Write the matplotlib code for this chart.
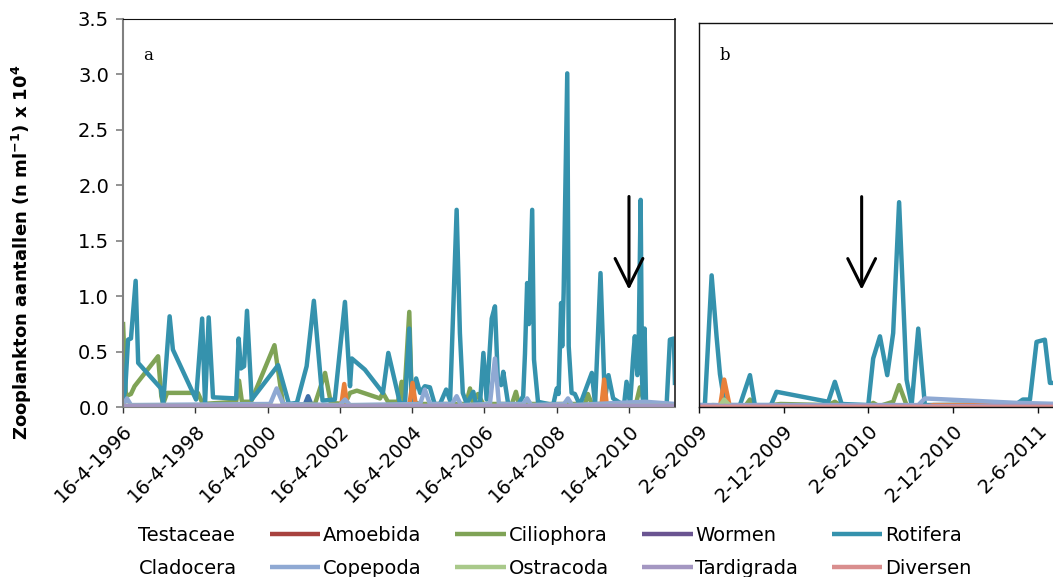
import numpy as np
import matplotlib
matplotlib.use("Agg")
import matplotlib.pyplot as plt
from matplotlib.ticker import FormatStrFormatter
import datetime as dt

# ---------------- data (x = decimal year, y = n ml-1 x 10^4) ----------------
series_names = ["Testaceae", "Amoebida", "Ciliophora", "Wormen", "Rotifera",
                "Cladocera", "Copepoda", "Ostracoda", "Tardigrada", "Diversen"]
series_colors = ["#3F6FA8", "#A8423F", "#7FA356", "#6A5491", "#3592AD",
                 "#E8803A", "#8FA9D3", "#A9C98A", "#A497C2", "#D98E8E"]

# panel a : 1996 - 2011
rot_a_t = [1996.29, 1996.35, 1996.43, 1996.51, 1996.64, 1996.71, 1997.34, 1997.40, 1997.58, 1997.67,
           1998.31, 1998.48, 1998.56, 1998.66, 1998.78, 1999.42, 1999.49, 1999.55, 1999.64, 1999.72,
           1999.85, 2000.58, 2000.88, 2001.10, 2001.37, 2001.57, 2001.81, 2002.15, 2002.43, 2002.57,
           2002.62, 2002.98, 2003.48, 2003.63, 2003.95, 2004.09, 2004.21, 2004.28, 2004.40, 2004.51,
           2004.64, 2004.78, 2004.92, 2005.06, 2005.23, 2005.34, 2005.52, 2005.61, 2005.69, 2005.80,
           2005.98, 2006.06, 2006.17, 2006.26, 2006.35, 2006.49, 2006.58, 2006.66, 2006.75, 2006.81,
           2006.95, 2007.23, 2007.36, 2007.41, 2007.47, 2007.52, 2007.61, 2007.66, 2007.77, 2008.19,
           2008.29, 2008.34, 2008.41, 2008.44, 2008.48, 2008.58, 2008.62, 2008.70, 2008.79, 2008.93,
           2009.26, 2009.35, 2009.50, 2009.62, 2009.72, 2009.85, 2010.04, 2010.15, 2010.22, 2010.32,
           2010.40, 2010.45, 2010.52, 2010.56, 2010.61, 2010.65, 2010.68, 2010.72, 2010.76, 2011.33,
           2011.42, 2011.53, 2011.56]
rot_a_v = [0.07, 0.15, 0.61, 0.62, 1.14, 0.40, 0.17, 0.03, 0.82, 0.52,
           0.07, 0.80, 0.03, 0.81, 0.09, 0.08, 0.62, 0.35, 0.37, 0.87,
           0.07, 0.38, 0.03, 0.04, 0.37, 0.96, 0.06, 0.07, 0.95, 0.19,
           0.44, 0.34, 0.13, 0.49, 0.04, 0.03, 0.71, 0.04, 0.26, 0.13,
           0.19, 0.18, 0.02, 0.03, 0.16, 0.06, 1.78, 0.67, 0.13, 0.03,
           0.14, 0.03, 0.05, 0.49, 0.07, 0.80, 0.91, 0.25, 0.20, 0.32,
           0.02, 0.03, 0.10, 0.48, 1.12, 0.75, 1.78, 0.43, 0.05, 0.02,
           0.17, 0.12, 0.94, 0.55, 1.03, 3.01, 0.55, 0.13, 0.12, 0.02,
           0.31, 0.03, 1.21, 0.06, 0.29, 0.08, 0.04, 0.02, 0.23, 0.03,
           0.44, 0.64, 0.29, 0.67, 1.87, 0.25, 0.02, 0.71, 0.02, 0.03,
           0.61, 0.62, 0.20]

cil_a_t = [1996.29, 1996.37, 1996.51, 1996.61, 1997.26, 1997.35, 1997.40, 1997.51, 1998.36, 1998.50,
           1999.42, 1999.50, 1999.58, 1999.83, 2000.48, 2000.72, 2001.60, 2001.88, 2002.04, 2002.43,
           2002.57, 2002.76, 2003.40, 2003.48, 2003.62, 2003.90, 2004.00, 2004.06, 2004.21, 2004.28,
           2004.51, 2005.78, 2005.89, 2005.97, 2006.11, 2006.25, 2007.05, 2007.16, 2007.24, 2009.07,
           2009.15, 2009.26, 2010.48, 2010.59, 2010.73, 2011.56]
cil_a_v = [0.77, 0.10, 0.12, 0.19, 0.46, 0.10, 0.03, 0.13, 0.13, 0.03,
           0.05, 0.24, 0.05, 0.05, 0.56, 0.02, 0.03, 0.31, 0.04, 0.03,
           0.13, 0.15, 0.08, 0.13, 0.05, 0.05, 0.23, 0.03, 0.86, 0.05,
           0.03, 0.03, 0.17, 0.03, 0.12, 0.03, 0.03, 0.14, 0.03, 0.03,
           0.12, 0.03, 0.03, 0.18, 0.02, 0.02]

clad_a_t = [1996.29, 2002.32, 2002.41, 2002.50, 2004.20, 2004.30, 2004.40, 2009.52, 2009.60, 2009.68, 2011.56]
clad_a_v = [0.00, 0.00, 0.21, 0.00, 0.00, 0.22, 0.00, 0.00, 0.25, 0.00, 0.00]

cop_a_t = [1996.29, 1996.40, 1996.51, 2000.36, 2000.54, 2000.72, 2002.29, 2002.43, 2002.57, 2004.51,
           2004.64, 2004.78, 2005.39, 2005.52, 2005.64, 2006.44, 2006.58, 2006.69, 2007.36, 2007.47,
           2007.58, 2008.49, 2008.60, 2008.71, 2010.73, 2011.56]
cop_a_v = [0.02, 0.08, 0.02, 0.03, 0.17, 0.03, 0.02, 0.07, 0.02, 0.03,
           0.16, 0.03, 0.03, 0.10, 0.02, 0.03, 0.44, 0.03, 0.03, 0.08,
           0.02, 0.03, 0.08, 0.02, 0.05, 0.03]

test_a_t = [1996.29, 2001.30, 2001.41, 2001.52, 2011.56]
test_a_v = [0.01, 0.01, 0.10, 0.01, 0.01]

flat_a_t = [1996.29, 2011.56]
amoe_a_v = [0.00, 0.00]
worm_a_v = [0.005, 0.005]
ostr_a_v = [0.01, 0.01]
tard_a_v = [0.01, 0.01]

# panel b : 2009 - 2011
rot_b_t = [2009.416, 2009.453, 2009.493, 2009.522, 2009.542, 2009.571, 2009.660, 2009.719, 2009.748, 2009.843,
           2009.876, 2010.181, 2010.220, 2010.260, 2010.417, 2010.446, 2010.486, 2010.529, 2010.564, 2010.599,
           2010.643, 2010.673, 2010.712, 2010.751, 2011.292, 2011.329, 2011.371, 2011.410, 2011.459, 2011.489,
           2011.548]
rot_b_v = [0.02, 0.02, 1.19, 0.64, 0.30, 0.02, 0.02, 0.29, 0.02, 0.02,
           0.14, 0.05, 0.23, 0.03, 0.02, 0.44, 0.64, 0.29, 0.67, 1.85,
           0.25, 0.02, 0.71, 0.02, 0.03, 0.07, 0.07, 0.59, 0.61, 0.22,
           0.22]

cil_b_t = [2009.416, 2009.500, 2009.690, 2009.719, 2009.748, 2009.843, 2009.900, 2010.181, 2010.220, 2010.260,
           2010.420, 2010.446, 2010.480, 2010.564, 2010.599, 2010.643, 2010.751, 2011.548]
cil_b_v = [0.01, 0.02, 0.01, 0.07, 0.01, 0.02, 0.03, 0.02, 0.05, 0.01,
           0.01, 0.04, 0.01, 0.05, 0.20, 0.02, 0.01, 0.01]

clad_b_t = [2009.416, 2009.542, 2009.567, 2009.601, 2010.751, 2010.800, 2011.290, 2011.350, 2011.548]
clad_b_v = [0.00, 0.00, 0.25, 0.00, 0.00, 0.02, 0.02, 0.00, 0.00]

ostr_b_t = [2009.416, 2009.542, 2009.567, 2009.601, 2011.548]
ostr_b_v = [0.01, 0.01, 0.07, 0.01, 0.01]

cop_b_t = [2009.416, 2009.542, 2009.567, 2009.601, 2010.712, 2010.751, 2011.292, 2011.548]
cop_b_v = [0.02, 0.02, 0.05, 0.02, 0.02, 0.08, 0.04, 0.03]

flat_b_t = [2009.416, 2011.548]
test_b_v = [0.01, 0.01]
amoe_b_v = [0.00, 0.00]
worm_b_v = [0.005, 0.005]
tard_b_v = [0.01, 0.01]
div_b_v = [0.0, 0.0]

# ticks
ticks_a = ["1996-04-16", "1998-04-16", "2000-04-16", "2002-04-16", "2004-04-16",
           "2006-04-16", "2008-04-16", "2010-04-16"]
ticklabels_a = ["16-4-1996", "16-4-1998", "16-4-2000", "16-4-2002", "16-4-2004",
                "16-4-2006", "16-4-2008", "16-4-2010"]
ticks_b = ["2009-06-02", "2009-12-02", "2010-06-02", "2010-12-02", "2011-06-02"]
ticklabels_b = ["2-6-2009", "2-12-2009", "2-6-2010", "2-12-2010", "2-6-2011"]

arrow_a = ("2010-04-16", 1.90, 1.06)
arrow_b = ("2010-05-19", 1.90, 1.06)


def dec(s):
    d = dt.date.fromisoformat(s)
    start = dt.date(d.year, 1, 1)
    n = (dt.date(d.year + 1, 1, 1) - start).days
    return d.year + (d - start).days / n


plt.rcParams['font.family'] = ['DejaVu Sans']

fig = plt.figure(figsize=(10.53, 5.77), dpi=100)
axA = fig.add_axes([0.1168, 0.2941, 0.5242, 0.6730])
axB = fig.add_axes([0.6635, 0.2941, 0.3431, 0.6666])

lw = 3.2
panel_a = {
    "Testaceae": (test_a_t, test_a_v), "Amoebida": (flat_a_t, amoe_a_v),
    "Ciliophora": (cil_a_t, cil_a_v), "Wormen": (flat_a_t, worm_a_v),
    "Rotifera": (rot_a_t, rot_a_v), "Cladocera": (clad_a_t, clad_a_v),
    "Copepoda": (cop_a_t, cop_a_v), "Ostracoda": (flat_a_t, ostr_a_v),
    "Tardigrada": (flat_a_t, tard_a_v),
}
panel_b = {
    "Testaceae": (flat_b_t, test_b_v), "Amoebida": (flat_b_t, amoe_b_v),
    "Ciliophora": (cil_b_t, cil_b_v), "Wormen": (flat_b_t, worm_b_v),
    "Rotifera": (rot_b_t, rot_b_v), "Cladocera": (clad_b_t, clad_b_v),
    "Copepoda": (cop_b_t, cop_b_v), "Ostracoda": (ostr_b_t, ostr_b_v),
    "Tardigrada": (flat_b_t, tard_b_v), "Diversen": (flat_b_t, div_b_v),
}

handles = {}
for name, col in zip(series_names, series_colors):
    if name in panel_a:
        t, v = panel_a[name]
        axA.plot(t, v, color=col, lw=lw, solid_joinstyle='round', solid_capstyle='butt')
    t, v = panel_b[name]
    h, = axB.plot(t, v, color=col, lw=lw, solid_joinstyle='round', solid_capstyle='butt', label=name)
    handles[name] = h

# panel a axes
axA.set_xlim(dec("1996-04-16"), 2011.56)
axA.set_ylim(0, 3.5)
axA.set_yticks(np.arange(0, 3.51, 0.5))
axA.yaxis.set_major_formatter(FormatStrFormatter('%.1f'))
axA.set_xticks([dec(s) for s in ticks_a])
axA.set_xticklabels(ticklabels_a, rotation=45, ha='right', rotation_mode='anchor')
axA.tick_params(axis='y', direction='out', length=5, width=1.2, color='#808080', labelsize=14, pad=5)
axA.tick_params(axis='x', direction='out', length=4, width=1, color='#333333', labelsize=14, pad=6)
axA.spines['left'].set_color('#808080')
axA.spines['left'].set_linewidth(1.5)
axA.spines['bottom'].set_color('#808080')
axA.spines['top'].set_color('#111111')
axA.spines['right'].set_color('#333333')
axA.spines['right'].set_linewidth(1.3)

# panel b axes
axB.set_xlim(dec("2009-06-02"), 2011.548)
axB.set_ylim(0, 3.469)
axB.set_yticks([])
axB.set_xticks([dec(s) for s in ticks_b])
axB.set_xticklabels(ticklabels_b, rotation=45, ha='right', rotation_mode='anchor')
axB.tick_params(axis='x', direction='out', length=4, width=1, color='#111111', labelsize=14, pad=6)
for sp in axB.spines.values():
    sp.set_color('#111111')
    sp.set_linewidth(1.0)

# arrows
for ax, (d, y0, y1) in ((axA, arrow_a), (axB, arrow_b)):
    x = dec(d)
    ax.annotate("", xy=(x, y1), xytext=(x, y0),
                arrowprops=dict(arrowstyle='->,head_length=1.0,head_width=0.5',
                                mutation_scale=20, lw=2.2, color='black',
                                shrinkA=0, shrinkB=0))

# panel letters
fig.text(0.136, 0.918, "a", family='DejaVu Serif', fontsize=12, va='top', ha='left')
fig.text(0.683, 0.918, "b", family='DejaVu Serif', fontsize=12, va='top', ha='left')

# y label
fig.text(0.021, 0.563, r"Zooplankton aantallen (n ml$^{\mathbf{-1}}$) x 10$^{\mathbf{4}}$",
         rotation=90, fontsize=13, fontweight='bold', va='center', ha='center')

# legend (column-major order for 2 rows x 5 columns)
order = ["Testaceae", "Cladocera", "Amoebida", "Copepoda", "Ciliophora",
         "Ostracoda", "Wormen", "Tardigrada", "Rotifera", "Diversen"]
leg = fig.legend([handles[n] for n in order], order, ncol=5, loc='upper left',
                 bbox_to_anchor=(0.0807, 0.089), frameon=False, fontsize=14,
                 handlelength=2.6, handletextpad=0.15, columnspacing=1.71,
                 labelspacing=0.72, borderpad=0, borderaxespad=0)
for line, n in zip(leg.get_lines(), order):
    if n in ("Testaceae", "Cladocera"):
        line.set_visible(False)

fig.savefig("out.png", dpi=100)
